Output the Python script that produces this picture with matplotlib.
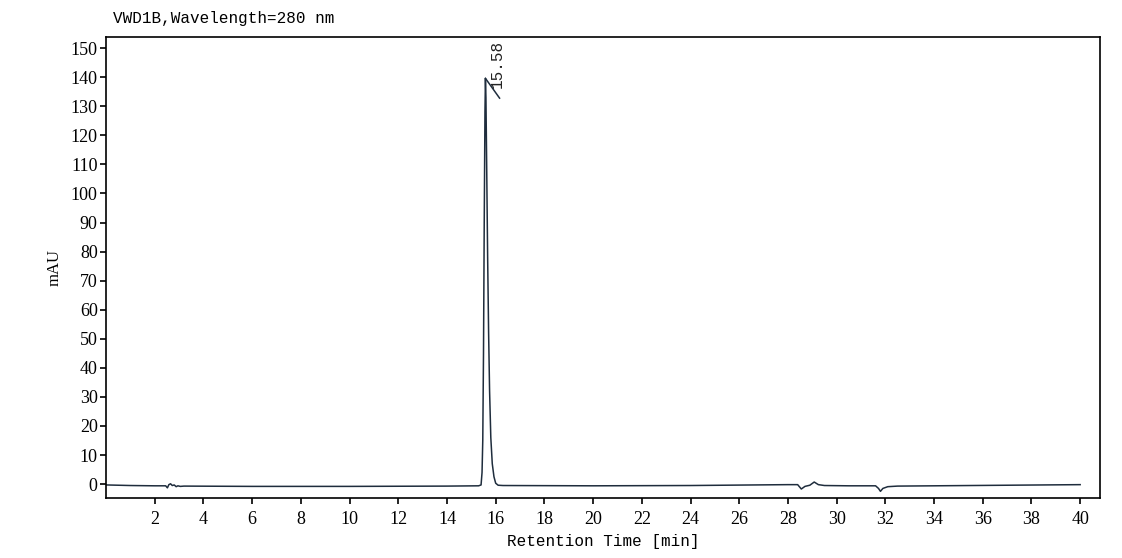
import numpy as np
import matplotlib
matplotlib.use("Agg")
import matplotlib.pyplot as plt

# chromatogram trace (min, mAU)
t = [0.0, 1.0, 2.0, 2.45, 2.52, 2.58, 2.65, 2.72, 2.80, 2.88, 2.95, 3.05, 3.2,
     6.0, 10.0, 14.0, 15.30, 15.40, 15.44, 15.47, 15.50, 15.53, 15.56, 15.58,
     15.60, 15.63, 15.67, 15.71, 15.75, 15.80, 15.86, 15.93, 16.00, 16.10, 16.30,
     20.0, 24.0, 28.0, 28.40, 28.55, 28.70, 28.90, 29.08, 29.25, 29.50, 30.5,
     31.60, 31.72, 31.80, 31.90, 32.10, 32.5, 34.0, 37.0, 40.0]
mau = [-0.3, -0.5, -0.6, -0.6, -1.3, -0.2, 0.1, -0.5, -0.3, -0.9, -0.6, -0.8, -0.7,
       -0.8, -0.8, -0.7, -0.6, -0.3, 4, 15, 45, 90, 128, 139.6,
       133, 110, 78, 52, 32, 16, 7, 2.5, 0.3, -0.4, -0.5,
       -0.6, -0.5, -0.2, -0.2, -1.7, -0.8, -0.4, 0.7, -0.2, -0.5, -0.6,
       -0.6, -1.5, -2.5, -1.5, -0.9, -0.7, -0.6, -0.4, -0.2]

peak_rt = 15.58
peak_h = 139.6
peak_label = "15.58"

xticks = list(range(2, 41, 2))
yticks = list(range(0, 151, 10))

fig = plt.figure(figsize=(11.22, 5.58), dpi=100)
ax = fig.add_axes([0.0945, 0.1075, 0.886, 0.826])

ax.plot(t, mau, color="#1f2d3d", lw=1.1)
# slanted marker from the apex of the peak
ax.plot([peak_rt, 16.16], [peak_h, 132.8], color="#1f2d3d", lw=1.1)
ax.text(16.07, 136.2, peak_label, rotation=90, ha="center", va="bottom",
        family="Liberation Mono", fontsize=11.5, color="#222222")

ax.set_xlim(0, 40.82)
ax.set_ylim(-4.8, 153.8)
ax.set_xticks(xticks)
ax.set_yticks(yticks)
ax.tick_params(direction="out", length=4, width=1.2, labelsize=13)
ax.tick_params(axis="x", pad=5)
ax.tick_params(axis="y", pad=2)
for lab in ax.get_xticklabels() + ax.get_yticklabels():
    lab.set_family("Liberation Serif")
for sp in ax.spines.values():
    sp.set_linewidth(1.2)

ax.set_xlabel("Retention Time [min]", family="Liberation Mono", fontsize=11.5, labelpad=5)
ax.set_ylabel("mAU", family="Liberation Serif", fontsize=12, labelpad=6)
fig.text(113/1122, 1 - 18/558, "VWD1B,Wavelength=280 nm", family="Liberation Mono",
         fontsize=11.5, ha="left", va="center")

fig.savefig("out.png", dpi=100)
